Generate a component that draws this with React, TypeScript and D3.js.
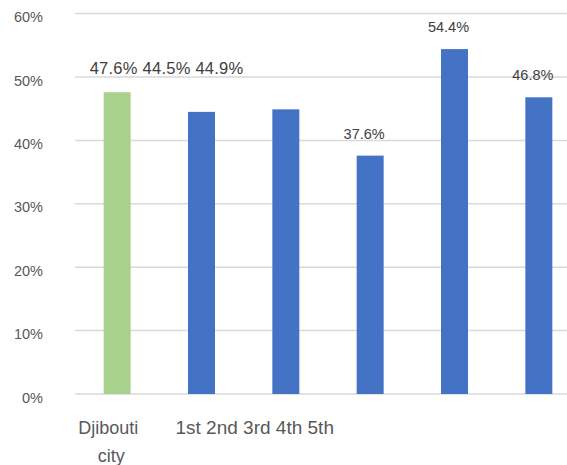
import React from "react";
import * as d3 from "d3";

const categories = ["Djibouti city", "1st", "2nd", "3rd", "4th", "5th"];
const values = [47.6, 44.5, 44.9, 37.6, 54.4, 46.8];
const barColors = ["#A9D18E", "#4472C4", "#4472C4", "#4472C4", "#4472C4", "#4472C4"];
const yTicks = [0, 10, 20, 30, 40, 50, 60];

const W = 567;
const H = 465;
const FONT = "'Liberation Sans', Arial, sans-serif";

export default function App() {
  const x = d3
    .scaleBand<string>()
    .domain(categories)
    .range([75, 581])
    .paddingInner(0.68)
    .paddingOuter(0.34);
  const y = d3.scaleLinear().domain([0, 60]).range([394, 13.6]);
  const fmt = (v: number) => v.toFixed(1) + "%";
  const cx = (c: string) => (x(c) as number) + x.bandwidth() / 2;

  const firstThree = values.slice(0, 3).map(fmt).join(" ");
  const quintileRow = categories.slice(1).join(" ");

  return (
    <svg
      width={W}
      height={H}
      style={{ position: "absolute", left: 0, top: 0, background: "#fff" }}
      fontFamily={FONT}
    >
      {yTicks.map((t) => (
        <g key={t}>
          <line x1={75} x2={W} y1={y(t)} y2={y(t)} stroke="#D9D9D9" strokeWidth={1.5} />
          <text x={43} y={y(t) + 8.5} textAnchor="end" fontSize={14.5} fill="#595959">
            {t + "%"}
          </text>
        </g>
      ))}
      {categories.map((c, i) => (
        <rect
          key={c}
          x={x(c)}
          y={y(values[i])}
          width={x.bandwidth()}
          height={y(0) - y(values[i])}
          fill={barColors[i]}
        />
      ))}
      <text
        x={cx(categories[0]) - 27.5}
        y={74}
        fontSize={16.5}
        letterSpacing={0.25}
        fill="#404040"
      >
        {firstThree}
      </text>
      {categories.slice(3).map((c, j) => {
        const i = j + 3;
        return (
          <text
            key={c}
            x={cx(c) - 6}
            y={y(values[i]) - 17}
            textAnchor="middle"
            fontSize={14.5}
            fill="#404040"
          >
            {fmt(values[i])}
          </text>
        );
      })}
      <text x={cx(categories[0]) - 9} y={434} textAnchor="middle" fontSize={18} fill="#595959">
        <tspan x={cx(categories[0]) - 9}>Djibouti</tspan>
        <tspan x={cx(categories[0]) - 6} dy={28}>city</tspan>
      </text>
      <text x={cx(categories[1]) - 26} y={434} fontSize={19} fill="#595959">
        {quintileRow}
      </text>
    </svg>
  );
}
